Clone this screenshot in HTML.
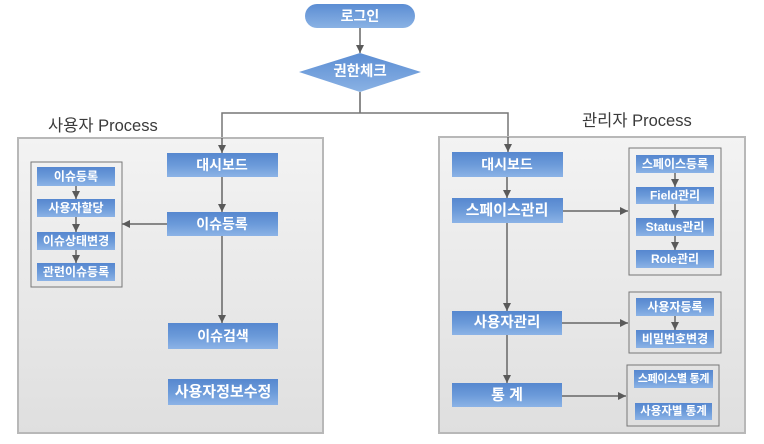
<!DOCTYPE html>
<html><head><meta charset="utf-8"><style>
html,body{margin:0;padding:0;background:#fff;}
svg{display:block;}
text{font-family:"Liberation Sans","Noto Sans CJK KR",sans-serif;}
.b{fill:#fff;font-weight:bold;text-anchor:middle;dominant-baseline:central;}
.l{fill:#3a3a3a;font-size:16.5px;}
</style></head><body>
<svg width="764" height="444" viewBox="0 0 764 444" xmlns="http://www.w3.org/2000/svg">
<defs>
<linearGradient id="bg" x1="0" y1="0" x2="0" y2="1">
<stop offset="0" stop-color="#5687cf"/><stop offset="0.5" stop-color="#6b9ad9"/><stop offset="1" stop-color="#8cb3e6"/>
</linearGradient>
<linearGradient id="pg" x1="0" y1="0" x2="0" y2="1">
<stop offset="0" stop-color="#f3f3f3"/><stop offset="1" stop-color="#dfdfdf"/>
</linearGradient>
<linearGradient id="dg" x1="0" y1="0" x2="0" y2="1">
<stop offset="0" stop-color="#5b8dd3"/><stop offset="1" stop-color="#8ab2e4"/>
</linearGradient>
<marker id="a" viewBox="0 0 10 10" refX="10" refY="5" markerWidth="8" markerHeight="8" markerUnits="userSpaceOnUse" orient="auto">
<path d="M0,0 L10,5 L0,10 z" fill="#5a5a5a"/>
</marker>
</defs>

<!-- top -->
<rect x="305" y="4" width="110" height="24" rx="12" fill="url(#dg)"/>
<text class="b" x="360" y="16" font-size="14">로그인</text>
<line x1="360" y1="28" x2="360" y2="53" stroke="#666" stroke-width="1.5" marker-end="url(#a)"/>
<polygon points="360,53 421,72 360,92 299,72" fill="url(#dg)"/>
<text class="b" x="360" y="72" font-size="14.5">권한체크</text>
<polyline points="360,92 360,113" fill="none" stroke="#666" stroke-width="1.5"/>
<polyline points="222,153 222,113 508,113 508,152" fill="none" stroke="#777" stroke-width="1.5"/>

<!-- panels -->
<text class="l" x="48" y="131">사용자 Process</text>
<rect x="18" y="138" width="305" height="295" fill="url(#pg)" stroke="#b8b8b8" stroke-width="2"/>
<text class="l" x="582" y="126">관리자 Process</text>
<rect x="439" y="137" width="306" height="296" fill="url(#pg)" stroke="#b8b8b8" stroke-width="2"/>

<!-- left panel -->
<line x1="222" y1="138" x2="222" y2="153" stroke="#666" stroke-width="1.5" marker-end="url(#a)"/>
<rect x="31" y="162" width="91" height="125" fill="none" stroke="#777" stroke-width="1"/>
<rect x="37" y="167" width="78" height="19" fill="url(#bg)"/>
<text class="b" x="76" y="176.5" font-size="12">이슈등록</text>
<rect x="37" y="199" width="78" height="18" fill="url(#bg)"/>
<text class="b" x="76" y="208" font-size="12">사용자할당</text>
<rect x="37" y="232" width="78" height="18" fill="url(#bg)"/>
<text class="b" x="76" y="241" font-size="12">이슈상태변경</text>
<rect x="37" y="263" width="78" height="18" fill="url(#bg)"/>
<text class="b" x="76" y="272" font-size="12">관련이슈등록</text>
<line x1="76" y1="186" x2="76" y2="199" stroke="#666" stroke-width="1.5" marker-end="url(#a)"/>
<line x1="76" y1="217" x2="76" y2="232" stroke="#666" stroke-width="1.5" marker-end="url(#a)"/>
<line x1="76" y1="250" x2="76" y2="263" stroke="#666" stroke-width="1.5" marker-end="url(#a)"/>

<rect x="167" y="153" width="111" height="24" fill="url(#bg)"/>
<text class="b" x="222" y="165" font-size="14">대시보드</text>
<rect x="167" y="212" width="111" height="24" fill="url(#bg)"/>
<text class="b" x="222" y="224" font-size="14">이슈등록</text>
<rect x="168" y="323" width="110" height="26" fill="url(#bg)"/>
<text class="b" x="223" y="336" font-size="14">이슈검색</text>
<rect x="168" y="379" width="110" height="26" fill="url(#bg)"/>
<text class="b" x="223" y="392" font-size="15">사용자정보수정</text>
<line x1="222" y1="177" x2="222" y2="212" stroke="#666" stroke-width="1.5" marker-end="url(#a)"/>
<line x1="222" y1="236" x2="222" y2="323" stroke="#666" stroke-width="1.5" marker-end="url(#a)"/>
<line x1="167" y1="224" x2="122" y2="224" stroke="#666" stroke-width="1.5" marker-end="url(#a)"/>

<!-- right panel -->
<line x1="508" y1="137" x2="508" y2="152" stroke="#666" stroke-width="1.5" marker-end="url(#a)"/>
<rect x="452" y="152" width="111" height="25" fill="url(#bg)"/>
<text class="b" x="507" y="164.5" font-size="14">대시보드</text>
<rect x="452" y="198" width="111" height="25" fill="url(#bg)"/>
<text class="b" x="507" y="210.5" font-size="15">스페이스관리</text>
<rect x="452" y="311" width="110" height="24" fill="url(#bg)"/>
<text class="b" x="507" y="323" font-size="14.5">사용자관리</text>
<rect x="452" y="383" width="110" height="24" fill="url(#bg)"/>
<text class="b" x="507" y="395" font-size="15" xml:space="preserve">통 계</text>
<line x1="507" y1="177" x2="507" y2="198" stroke="#666" stroke-width="1.5" marker-end="url(#a)"/>
<line x1="507" y1="223" x2="507" y2="311" stroke="#666" stroke-width="1.5" marker-end="url(#a)"/>
<line x1="507" y1="335" x2="507" y2="383" stroke="#666" stroke-width="1.5" marker-end="url(#a)"/>
<line x1="563" y1="211" x2="628" y2="211" stroke="#666" stroke-width="1.5" marker-end="url(#a)"/>
<line x1="562" y1="323" x2="628" y2="323" stroke="#666" stroke-width="1.5" marker-end="url(#a)"/>
<line x1="562" y1="396" x2="626" y2="396" stroke="#666" stroke-width="1.5" marker-end="url(#a)"/>

<rect x="629" y="148" width="92" height="127" fill="none" stroke="#777" stroke-width="1"/>
<rect x="636" y="155" width="78" height="18" fill="url(#bg)"/>
<text class="b" x="675" y="164" font-size="12">스페이스등록</text>
<rect x="636" y="187" width="78" height="17" fill="url(#bg)"/>
<text class="b" x="675" y="195.5" font-size="12">Field관리</text>
<rect x="636" y="218" width="78" height="18" fill="url(#bg)"/>
<text class="b" x="675" y="227" font-size="12">Status관리</text>
<rect x="636" y="250" width="78" height="18" fill="url(#bg)"/>
<text class="b" x="675" y="259" font-size="12">Role관리</text>
<line x1="675" y1="173" x2="675" y2="187" stroke="#666" stroke-width="1.5" marker-end="url(#a)"/>
<line x1="675" y1="204" x2="675" y2="218" stroke="#666" stroke-width="1.5" marker-end="url(#a)"/>
<line x1="675" y1="236" x2="675" y2="250" stroke="#666" stroke-width="1.5" marker-end="url(#a)"/>

<rect x="629" y="292" width="92" height="61" fill="none" stroke="#777" stroke-width="1"/>
<rect x="636" y="298" width="78" height="18" fill="url(#bg)"/>
<text class="b" x="675" y="307" font-size="12">사용자등록</text>
<rect x="636" y="330" width="78" height="18" fill="url(#bg)"/>
<text class="b" x="675" y="339" font-size="12">비밀번호변경</text>
<line x1="675" y1="316" x2="675" y2="330" stroke="#666" stroke-width="1.5" marker-end="url(#a)"/>

<rect x="627" y="365" width="92" height="61" fill="none" stroke="#777" stroke-width="1"/>
<rect x="634" y="370" width="79" height="18" fill="url(#bg)"/>
<text class="b" x="673.5" y="379" font-size="11" letter-spacing="-0.3">스페이스별 통계</text>
<rect x="635" y="403" width="77" height="17" fill="url(#bg)"/>
<text class="b" x="673.5" y="411.5" font-size="11.5">사용자별 통계</text>
</svg>
</body></html>
